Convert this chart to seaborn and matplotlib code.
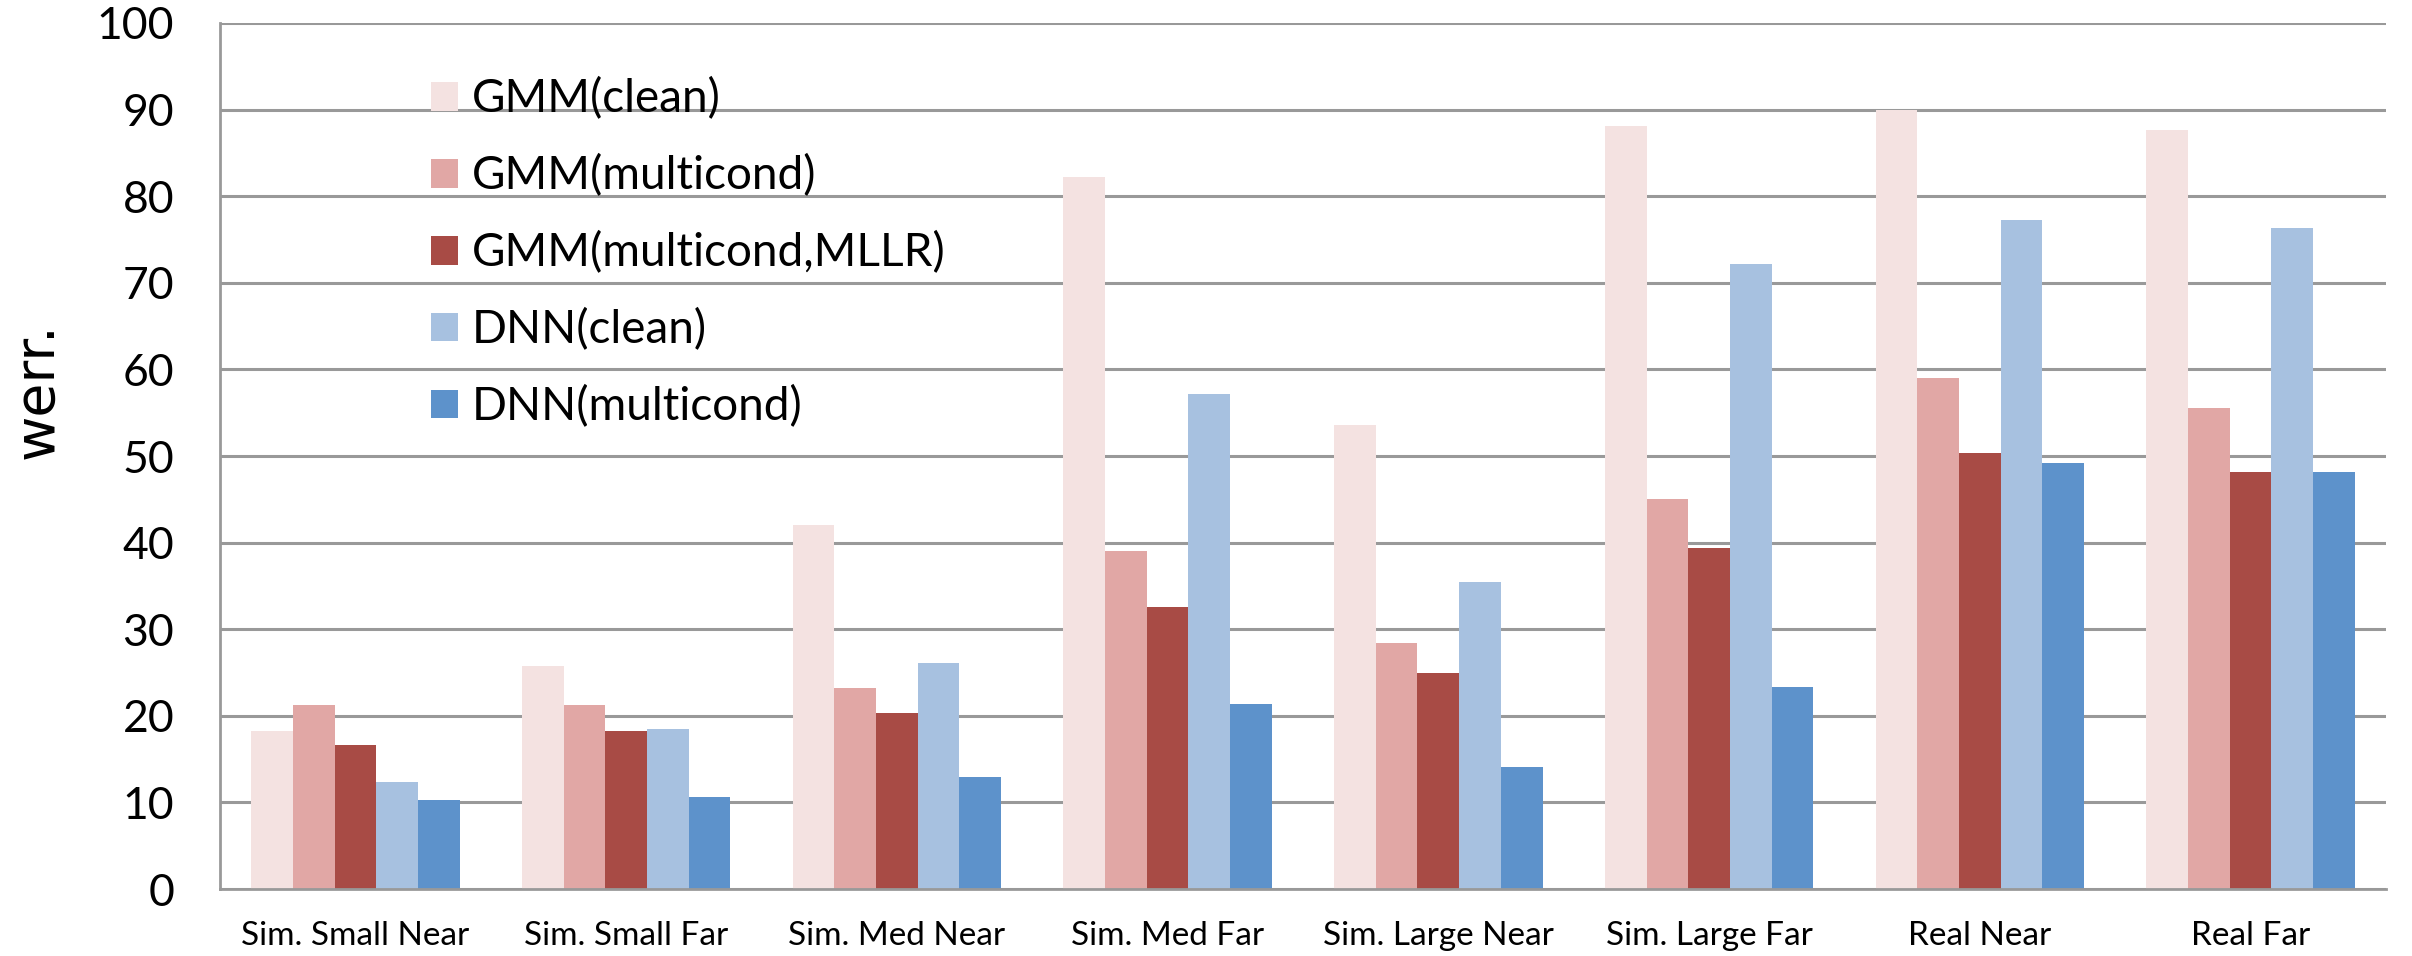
import matplotlib
matplotlib.use("Agg")
import matplotlib.pyplot as plt
import seaborn as sns
import pandas as pd

# Conditions (x axis groups)
conditions = ["Sim. Small Near", "Sim. Small Far", "Sim. Med Near", "Sim. Med Far",
              "Sim. Large Near", "Sim. Large Far", "Real Near", "Real Far"]

# Systems (hue)
systems = ["GMM(clean)", "GMM(multicond)", "GMM(multicond,MLLR)", "DNN(clean)", "DNN(multicond)"]

# Word error rates
gmm_clean = [18.3, 25.7, 42.0, 82.2, 53.6, 88.1, 90.0, 87.6]
gmm_multi = [21.3, 21.2, 23.2, 39.0, 28.4, 45.0, 59.0, 55.6]
gmm_mllr = [16.6, 18.3, 20.3, 32.6, 24.9, 39.4, 50.3, 48.1]
dnn_clean = [12.4, 18.5, 26.1, 57.2, 35.5, 72.2, 77.3, 76.3]
dnn_multi = [10.3, 10.6, 12.9, 21.4, 14.1, 23.3, 49.2, 48.2]

colors = ["#F4E2E1", "#E1A7A5", "#A84B45", "#A7C1E0", "#5D92CB"]

series = [gmm_clean, gmm_multi, gmm_mllr, dnn_clean, dnn_multi]
rows = []
for name, vals in zip(systems, series):
    for cond, v in zip(conditions, vals):
        rows.append({"condition": cond, "system": name, "werr": v})
df = pd.DataFrame(rows)

sns.set_style("white")
plt.rcParams["font.family"] = ["Lato", "DejaVu Sans"]
plt.rcParams["text.color"] = "black"
plt.rcParams["axes.labelcolor"] = "black"

fig = plt.figure(figsize=(24.12, 9.56), dpi=100)
ax = fig.add_axes([0.0912, 0.070, 0.898, 0.906])

sns.barplot(data=df, x="condition", y="werr", hue="system",
            order=conditions, hue_order=systems, palette=colors,
            width=0.77, saturation=1, gap=0, linewidth=0, ax=ax)

ax.set_ylim(0, 100)
ax.set_yticks(range(0, 101, 10))
ax.set_xlim(-0.5, len(conditions) - 0.5)
ax.yaxis.grid(True, color="#999999", linewidth=2.2)
ax.set_axisbelow(True)

for s in ["top", "right"]:
    ax.spines[s].set_visible(False)
for s in ["left", "bottom"]:
    ax.spines[s].set_color("#999999")
    ax.spines[s].set_linewidth(2)

# category ticks sit between groups, labels centred on groups
ax.set_xticks([i - 0.5 for i in range(len(conditions) + 1)])
ax.set_xticklabels([])
ax.set_xticks(range(len(conditions)), minor=True)
ax.set_xticklabels(conditions, minor=True, fontsize=24)
ax.tick_params(axis="x", which="major", length=9, width=2, color="#999999", direction="out")
ax.tick_params(axis="x", which="minor", length=0, pad=23, labelcolor="black")
ax.tick_params(axis="y", length=11, width=2, color="#999999", direction="out",
               labelcolor="black", labelsize=32, pad=22)

ax.set_xlabel("")
ax.set_ylabel("werr.", fontsize=40, family="DejaVu Sans")
ax.yaxis.set_label_coords(-0.072, 0.575)

ax.legend(loc="upper left", bbox_to_anchor=(0.0974, 0.937), frameon=False,
          fontsize=33, handlelength=0.59, handleheight=0.59, handletextpad=0.31,
          labelspacing=0.74, borderaxespad=0, borderpad=0)

fig.savefig("out.png", dpi=100)
